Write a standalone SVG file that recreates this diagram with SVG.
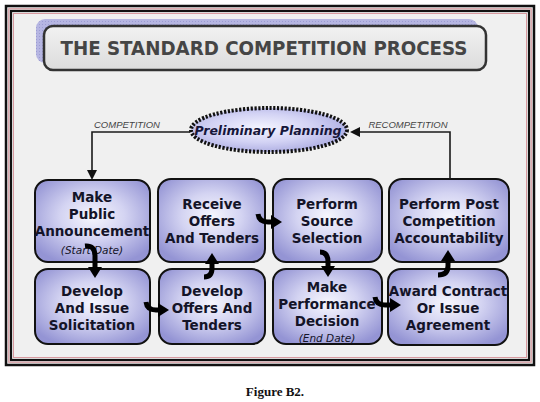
<svg xmlns="http://www.w3.org/2000/svg" width="540" height="402" viewBox="0 0 540 402">
<defs>
<radialGradient id="boxg" cx="50%" cy="45%" r="62%">
<stop offset="0" stop-color="#f6f6fd"/>
<stop offset="0.45" stop-color="#d4d4f2"/>
<stop offset="1" stop-color="#9494d4"/>
</radialGradient>
<radialGradient id="ellg" cx="45%" cy="45%" r="60%">
<stop offset="0" stop-color="#f4f4ff"/>
<stop offset="0.55" stop-color="#d2d2f4"/>
<stop offset="1" stop-color="#aaaae0"/>
</radialGradient>
<linearGradient id="titleg" x1="0" y1="0" x2="0" y2="1">
<stop offset="0" stop-color="#f2f2f2"/>
<stop offset="1" stop-color="#dcdcdc"/>
</linearGradient>
<pattern id="dots" width="3" height="3" patternUnits="userSpaceOnUse">
<rect width="3" height="3" fill="#b6b6e2"/>
<rect width="1" height="1" fill="#9c9cd2"/>
</pattern>
<marker id="bh" markerUnits="userSpaceOnUse" markerWidth="11" markerHeight="14" refX="1" refY="7" orient="auto">
<path d="M0,0 L11,7 L0,14 z" fill="#000"/>
</marker>
<marker id="th" markerUnits="userSpaceOnUse" markerWidth="10" markerHeight="10" refX="1" refY="5" orient="auto">
<path d="M0,0 L10,5 L0,10 z" fill="#111"/>
</marker>
</defs>
<style>
.box{fill:url(#boxg);stroke:#111;stroke-width:2}
.lbl{font-family:"DejaVu Sans",Verdana,sans-serif;font-weight:bold;font-size:13.5px;fill:#141428;text-anchor:middle}
.sub{font-family:"DejaVu Sans",Verdana,sans-serif;font-style:italic;font-size:10.5px;fill:#141428;text-anchor:middle}
.thin{fill:none;stroke:#1a1a1a;stroke-width:1.6}
.blk{fill:none;stroke:#000;stroke-width:5}
.cl{font-family:"Liberation Sans",Arial,sans-serif;font-style:italic;font-size:9.5px;fill:#444;text-anchor:middle}
</style>
<rect width="540" height="402" fill="#fff"/>
<!-- frame -->
<rect x="6" y="6" width="528" height="359" fill="#f0f0f0" stroke="#111" stroke-width="2.5"/>
<rect x="8.8" y="8.8" width="522.4" height="353.4" fill="none" stroke="#d89aa0" stroke-width="1.2"/>
<rect x="11" y="11" width="518" height="349" fill="none" stroke="#111" stroke-width="2.2"/>
<rect x="13.5" y="13.5" width="513" height="344" fill="none" stroke="#d89aa0" stroke-width="1"/>
<!-- title -->
<g id="title">
<rect x="36" y="19" width="442" height="44" rx="9" fill="url(#dots)"/>
<rect x="44" y="26" width="442" height="44" rx="9" fill="url(#titleg)" stroke="#333" stroke-width="2.5"/>
<text x="264" y="55" font-family="'DejaVu Sans',Verdana,sans-serif" font-weight="bold" font-size="20" fill="#454545" text-anchor="middle" textLength="407" lengthAdjust="spacingAndGlyphs">THE STANDARD COMPETITION PROCESS</text>
</g>
<g id="planning">
<ellipse cx="269" cy="130" rx="78" ry="22" fill="url(#ellg)" stroke="#111" stroke-width="4" stroke-dasharray="2.2 1.6"/>
<text x="268" y="135" font-family="'DejaVu Sans',Verdana,sans-serif" font-weight="bold" font-style="italic" font-size="12.5" fill="#16163a" text-anchor="middle">Preliminary Planning</text>
</g>
<g id="announce">
<rect class="box" x="35" y="180" width="115" height="82" rx="13"/>
<text class="lbl" x="92" y="202">Make</text>
<text class="lbl" x="92" y="219">Public</text>
<text class="lbl" x="92" y="236">Announcement</text>
<text class="sub" x="92" y="254">(Start Date)</text>
</g>
<g id="receive">
<rect class="box" x="158" y="179" width="107" height="83" rx="13"/>
<text class="lbl" x="212" y="209">Receive</text>
<text class="lbl" x="212" y="226">Offers</text>
<text class="lbl" x="212" y="243">And Tenders</text>
</g>
<g id="source">
<rect class="box" x="273" y="179" width="109" height="83" rx="13"/>
<text class="lbl" x="327" y="209">Perform</text>
<text class="lbl" x="327" y="226">Source</text>
<text class="lbl" x="327" y="243">Selection</text>
</g>
<g id="post">
<rect class="box" x="389" y="179" width="120" height="83" rx="13"/>
<text class="lbl" x="449" y="209">Perform Post</text>
<text class="lbl" x="449" y="226">Competition</text>
<text class="lbl" x="449" y="243">Accountability</text>
</g>
<g id="solicit">
<rect class="box" x="35" y="269" width="115" height="75" rx="13"/>
<text class="lbl" x="92" y="296">Develop</text>
<text class="lbl" x="92" y="313">And Issue</text>
<text class="lbl" x="92" y="330">Solicitation</text>
</g>
<g id="offers">
<rect class="box" x="159" y="269" width="106" height="75" rx="13"/>
<text class="lbl" x="212" y="296">Develop</text>
<text class="lbl" x="212" y="313">Offers And</text>
<text class="lbl" x="212" y="330">Tenders</text>
</g>
<g id="decision">
<rect class="box" x="273" y="269" width="109" height="75" rx="13"/>
<text class="lbl" x="327" y="292">Make</text>
<text class="lbl" x="327" y="309">Performance</text>
<text class="lbl" x="327" y="326">Decision</text>
<text class="sub" x="327" y="342">(End Date)</text>
</g>
<g id="award">
<rect class="box" x="388" y="269" width="120" height="76" rx="13"/>
<text class="lbl" x="448" y="296">Award Contract</text>
<text class="lbl" x="448" y="313">Or Issue</text>
<text class="lbl" x="448" y="330">Agreement</text>
</g>
<!-- connectors -->
<g id="connectors">
<path class="thin" d="M190,132 H92 V171" marker-end="url(#th)"/>
<path class="thin" d="M450,179 V132 H359" marker-end="url(#th)"/>
<text class="cl" x="127" y="128">COMPETITION</text>
<text class="cl" x="408" y="128">RECOMPETITION</text>
<path class="blk" d="M85,246 Q95,245 95,256 L95,268" marker-end="url(#bh)"/>
<path class="blk" d="M146,302 Q147,310 156,310 L159,310" marker-end="url(#bh)"/>
<path class="blk" d="M204,277 Q212,277 212,268 L212,263" marker-end="url(#bh)"/>
<path class="blk" d="M258,214 Q259,222 268,222 L272,222" marker-end="url(#bh)"/>
<path class="blk" d="M320,252 Q328,252 328,262 L328,267" marker-end="url(#bh)"/>
<path class="blk" d="M375,297 Q376,305 385,305 L391,305" marker-end="url(#bh)"/>
<path class="blk" d="M438,275 Q448,275 448,266 L448,260" marker-end="url(#bh)"/>
</g>
<text x="275" y="396" font-family="'Liberation Serif','Times New Roman',serif" font-weight="bold" font-size="13" fill="#111" text-anchor="middle">Figure B2.</text>
</svg>
